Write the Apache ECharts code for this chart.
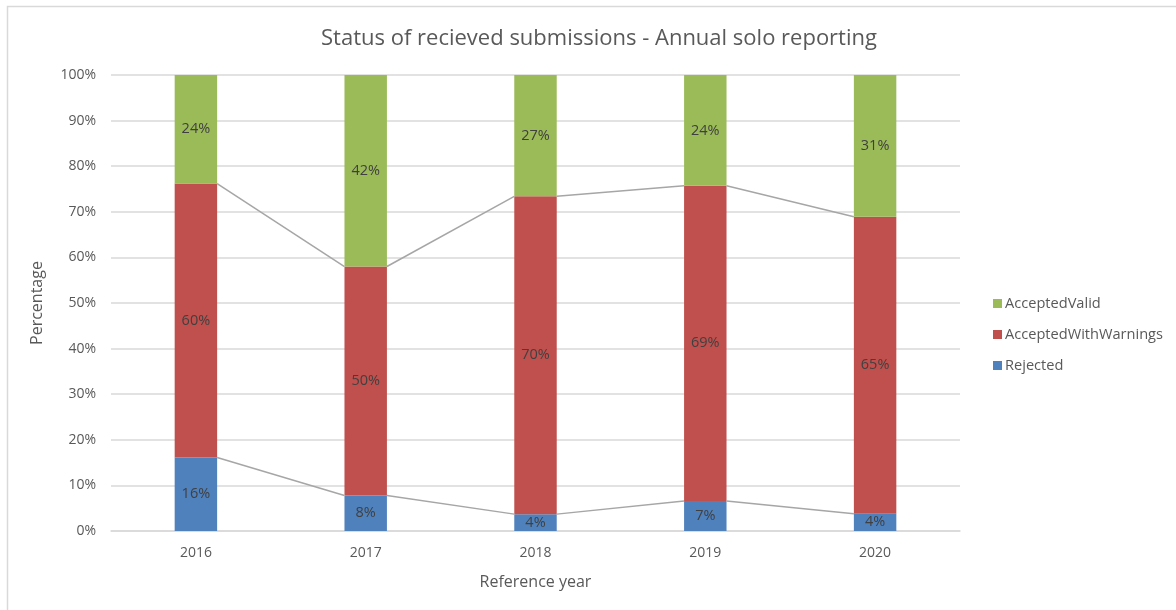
<!DOCTYPE html>
<html>
<head>
<meta charset="utf-8">
<script src="https://cdn.jsdelivr.net/npm/echarts@6/dist/echarts.min.js"></script>
<style>
html,body{margin:0;padding:0;background:#fff;}
#chart{width:1176px;height:610px;}
</style>
</head>
<body>
<div id="chart"></div>
<script>
var years = ['2016', '2017', '2018', '2019', '2020'];
var rejected = [16.1, 7.8, 3.7, 6.6, 3.8];
var warnings = [60.1, 50.2, 69.7, 69.1, 65.1];
var valid = [23.8, 42.0, 26.6, 24.3, 31.1];
var yTicks = [0, 10, 20, 30, 40, 50, 60, 70, 80, 90, 100];

var cumLow = rejected.slice();
var cumHigh = rejected.map(function (v, i) { return v + warnings[i]; });

var FONT = '"Open Sans", "Noto Sans", sans-serif';
var TXT = '#595959';
var BAR_FRAC = 0.25;

function seriesLine(cum) {
  var data = [];
  for (var i = 0; i < cum.length - 1; i++) data.push([i, cum[i], i + 1, cum[i + 1]]);
  return {
    type: 'custom',
    silent: true,
    z: 5,
    data: data,
    encode: { x: [0, 2], y: [1, 3] },
    renderItem: function (params, api) {
      var p1 = api.coord([api.value(0), api.value(1)]);
      var p2 = api.coord([api.value(2), api.value(3)]);
      var bw = api.size([1, 0])[0] * BAR_FRAC;
      return {
        type: 'line',
        shape: { x1: p1[0] + bw / 2, y1: p1[1], x2: p2[0] - bw / 2, y2: p2[1] },
        style: { stroke: '#a6a6a6', lineWidth: 1.5 }
      };
    }
  };
}

function lbl() {
  return {
    show: true,
    position: 'inside',
    color: '#404040',
    fontFamily: FONT,
    fontSize: 14.5,
    formatter: function (p) { return Math.round(p.value) + '%'; }
  };
}

var chart = echarts.init(document.getElementById('chart'), null, { renderer: 'canvas' });
chart.setOption({
  animation: false,
  backgroundColor: '#fff',
  graphic: [{
    type: 'rect',
    shape: { x: 7.5, y: 6.5, width: 1200, height: 640 },
    style: { fill: 'none', stroke: '#d9d9d9', lineWidth: 1.5 },
    z: -10
  }],
  title: {
    text: 'Status of recieved submissions - Annual solo reporting',
    left: 594,
    textAlign: 'center',
    top: 23,
    textStyle: { fontFamily: FONT, fontSize: 22, fontWeight: 'normal', color: TXT }
  },
  legend: {
    orient: 'vertical',
    left: 988,
    top: 291,
    itemWidth: 9,
    itemHeight: 9,
    itemGap: 16,
    icon: 'rect',
    data: ['AcceptedValid', 'AcceptedWithWarnings', 'Rejected'],
    textStyle: { fontFamily: FONT, fontSize: 14.6, color: TXT, padding: [0, 0, 0, -2] }
  },
  grid: { left: 111, right: 216, top: 75, bottom: 79, containLabel: false },
  xAxis: {
    type: 'category',
    data: years,
    name: 'Reference year',
    nameLocation: 'middle',
    nameGap: 43,
    nameTextStyle: { fontFamily: FONT, fontSize: 16, color: TXT },
    axisLine: { lineStyle: { color: '#d9d9d9', width: 1.5 } },
    axisTick: { show: false },
    axisLabel: { fontFamily: FONT, fontSize: 14, color: TXT, margin: 15 }
  },
  yAxis: {
    type: 'value',
    min: 0,
    max: 100,
    interval: 10,
    name: 'Percentage',
    nameLocation: 'middle',
    nameGap: 66,
    nameRotate: 90,
    nameTextStyle: { fontFamily: FONT, fontSize: 16, color: TXT },
    axisLine: { show: false },
    axisTick: { show: false },
    splitLine: { lineStyle: { color: '#d9d9d9', width: 1.5 } },
    axisLabel: {
      fontFamily: FONT, fontSize: 14, color: TXT, margin: 15,
      formatter: function (v) { return yTicks.indexOf(v) >= 0 ? v + '%' : ''; }
    }
  },
  series: [
    { name: 'Rejected', type: 'bar', stack: 's', barWidth: (BAR_FRAC * 100) + '%', data: rejected,
      itemStyle: { color: '#4F81BD' }, label: lbl() },
    { name: 'AcceptedWithWarnings', type: 'bar', stack: 's', barWidth: (BAR_FRAC * 100) + '%', data: warnings,
      itemStyle: { color: '#C0504D' }, label: lbl() },
    { name: 'AcceptedValid', type: 'bar', stack: 's', barWidth: (BAR_FRAC * 100) + '%', data: valid,
      itemStyle: { color: '#9BBB59' }, label: lbl() },
    seriesLine(cumLow),
    seriesLine(cumHigh)
  ]
});
</script>
</body>
</html>
